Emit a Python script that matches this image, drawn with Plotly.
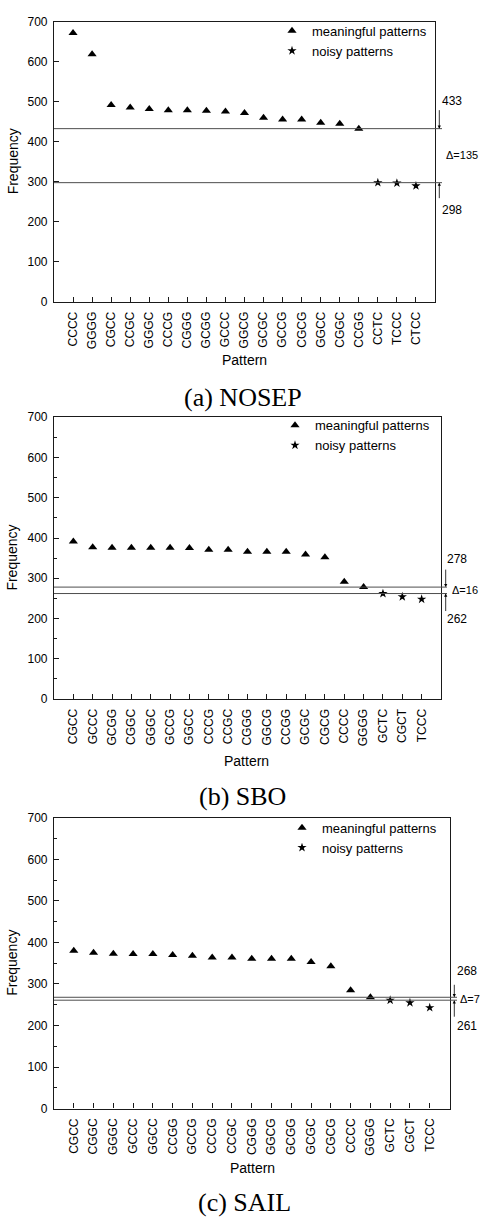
import plotly.graph_objects as go

# ---------------- data ----------------
pat_a = ["CCCC", "GGGG", "CGCC", "CCGC", "GGGC", "CCCG", "CGGG", "GCGG", "GCCC", "GGCG",
         "GCGC", "GCCG", "CGCG", "GGCC", "CGGC", "CCGG", "CCTC", "TCCC", "CTCC"]
freq_a_mean = [672, 619, 492, 486, 482, 479, 479, 478, 476, 472, 460, 456, 456, 448, 445, 433]
freq_a_noise = [298, 297, 290]

pat_b = ["CGCC", "GCCC", "GCGG", "CGGC", "GGGC", "GCCG", "GGCC", "CCCG", "CCGC", "CGGG",
         "GGCG", "CCGG", "GCGC", "CGCG", "CCCC", "GGGG", "GCTC", "CGCT", "TCCC"]
freq_b_mean = [391, 377, 376, 376, 376, 376, 375, 371, 371, 366, 366, 366, 359, 352, 291, 278]
freq_b_noise = [262, 254, 248]

pat_c = ["CGCC", "CGGC", "GGGC", "GCCC", "GGCC", "CCGG", "GCCG", "CCCG", "CCGC", "CGGG",
         "GGCG", "GCGG", "GCGC", "CGCG", "CCCC", "GGGG", "GCTC", "CGCT", "TCCC"]
freq_c_mean = [380, 375, 373, 372, 372, 370, 368, 364, 364, 361, 361, 361, 353, 343, 285, 268]
freq_c_noise = [261, 255, 243]

upper = [433, 278, 268]
lower = [298, 262, 261]
captions = ["(a) NOSEP", "(b) SBO", "(c) SAIL"]
y_ticks = [0, 100, 200, 300, 400, 500, 600, 700]

W, H = 480, 1224
def px(x):
    return x / W
def py(y):
    return 1 - y / H

FONT = "Liberation Sans, Arial, sans-serif"
SERIF = "Liberation Serif, Times New Roman, serif"

# layout geometry per panel (pixels)
panels = [
    dict(pat=pat_a, mean=freq_a_mean, noise=freq_a_noise, left=54, right=435, top=15, bottom=298.3,
         ext=442, arrow_x=439.3, minor=False,
         t_up=(440, 95), t_d=(444, 150), t_lo=(440, 205), ay_up=-20, ay_lo=17,
         leg=(272, 9), ptitle=(244, 357), cap=(243, 395)),
    dict(pat=pat_b, mean=freq_b_mean, noise=freq_b_noise, left=54, right=441, top=415, bottom=700,
         ext=447, arrow_x=445.7, minor=True,
         t_up=(445, 558), t_d=(450, 590), t_lo=(445, 619), ay_up=-19, ay_lo=19,
         leg=(275, 408), ptitle=(247, 763), cap=(242, 799)),
    dict(pat=pat_c, mean=freq_c_mean, noise=freq_c_noise, left=54, right=449.5, top=820.3, bottom=1114.3,
         ext=457, arrow_x=454.3, minor=True,
         t_up=(455, 975), t_d=(458, 1003), t_lo=(455, 1031), ay_up=-14, ay_lo=18,
         leg=(282, 815), ptitle=(252, 1174), cap=(245, 1209)),
]

fig = go.Figure()
shapes, annotations = [], []
layout = {}

for i, p in enumerate(panels):
    n = i + 1
    xa = "x" if n == 1 else f"x{n}"
    ya = "y" if n == 1 else f"y{n}"
    lg = "legend" if n == 1 else f"legend{n}"
    n_mean = len(p["mean"])
    fig.add_trace(go.Scatter(
        x=p["pat"][:n_mean], y=p["mean"], mode="markers", name="meaningful patterns",
        marker=dict(symbol="triangle-up", size=8, color="black", line=dict(width=0)),
        xaxis=xa, yaxis=ya, legend=lg, showlegend=True))
    fig.add_trace(go.Scatter(
        x=p["pat"][n_mean:], y=p["noise"], mode="markers", name="noisy patterns",
        marker=dict(symbol="star", size=7, color="black", line=dict(width=0)),
        xaxis=xa, yaxis=ya, legend=lg, showlegend=True))

    axis_common = dict(showline=True, linecolor="#1a1a1a", linewidth=1.2, mirror=True,
                       ticks="inside", ticklen=5, tickwidth=1, tickcolor="#1a1a1a",
                       showgrid=False, zeroline=False,
                       tickfont=dict(family=FONT, size=12, color="black"))
    layout["xaxis" if n == 1 else f"xaxis{n}"] = dict(
        axis_common, domain=[px(p["left"]), px(p["right"])], anchor=ya,
        type="category", categoryorder="array", categoryarray=p["pat"],
        range=[-1, len(p["pat"])], tickangle=-90, ticklabelstandoff=4)
    yd = dict(axis_common, domain=[py(p["bottom"]), py(p["top"])], anchor=xa,
              range=[0, 700], tickvals=y_ticks, ticklabelstandoff=3)
    if p["minor"]:
        yd["minor"] = dict(ticks="inside", dtick=50, ticklen=3, tickcolor="#1a1a1a", showgrid=False)
    layout["yaxis" if n == 1 else f"yaxis{n}"] = yd

    layout[lg] = dict(x=px(p["leg"][0]), y=py(p["leg"][1]), xanchor="left", yanchor="top",
                      bgcolor="rgba(0,0,0,0)", borderwidth=0,
                      font=dict(family=FONT, size=13, color="black"), itemwidth=30,
                      tracegroupgap=0)

    # threshold lines
    for v in (upper[i], lower[i]):
        shapes.append(dict(type="line", xref="paper", yref=ya, x0=px(p["left"]), x1=px(p["ext"]),
                           y0=v, y1=v, line=dict(color="#4d4d4d", width=1)))
    # arrows
    annotations.append(dict(xref="paper", yref=ya, x=px(p["arrow_x"]), y=upper[i], text="",
                            showarrow=True, ax=0, ay=p["ay_up"], arrowhead=2, arrowsize=0.8,
                            arrowwidth=0.8, arrowcolor="black"))
    annotations.append(dict(xref="paper", yref=ya, x=px(p["arrow_x"]), y=lower[i], text="",
                            showarrow=True, ax=0, ay=p["ay_lo"], arrowhead=2, arrowsize=0.8,
                            arrowwidth=0.8, arrowcolor="black"))
    # labels
    for (tx, ty), t, fs in ((p["t_up"], str(upper[i]), 12),
                            (p["t_d"], f"Δ={upper[i] - lower[i]}", 11),
                            (p["t_lo"], str(lower[i]), 12)):
        annotations.append(dict(xref="paper", yref="paper", x=px(tx), y=py(ty), text=t,
                                showarrow=False, xanchor="left", yanchor="middle",
                                font=dict(family=FONT, size=fs, color="black")))
    # axis titles
    annotations.append(dict(xref="paper", yref="paper", x=px(12.5), y=py((p["top"] + p["bottom"]) / 2),
                            text="Frequency", textangle=-90, showarrow=False,
                            xanchor="center", yanchor="middle",
                            font=dict(family=FONT, size=14, color="black")))
    annotations.append(dict(xref="paper", yref="paper", x=px(p["ptitle"][0]), y=py(p["ptitle"][1]),
                            text="Pattern", showarrow=False, xanchor="center", yanchor="middle",
                            font=dict(family=FONT, size=14, color="black")))
    annotations.append(dict(xref="paper", yref="paper", x=px(p["cap"][0]), y=py(p["cap"][1]),
                            text=captions[i], showarrow=False, xanchor="center", yanchor="middle",
                            font=dict(family=SERIF, size=26, color="black")))

fig.update_layout(**layout)
fig.update_layout(width=W, height=H, margin=dict(l=0, r=0, t=0, b=0),
                  paper_bgcolor="white", plot_bgcolor="white",
                  shapes=shapes, annotations=annotations,
                  font=dict(family=FONT, color="black"))

fig.write_html("out.html", config={"displayModeBar": False},
               post_script="document.body.style.margin='0';document.body.style.overflow='hidden';")
